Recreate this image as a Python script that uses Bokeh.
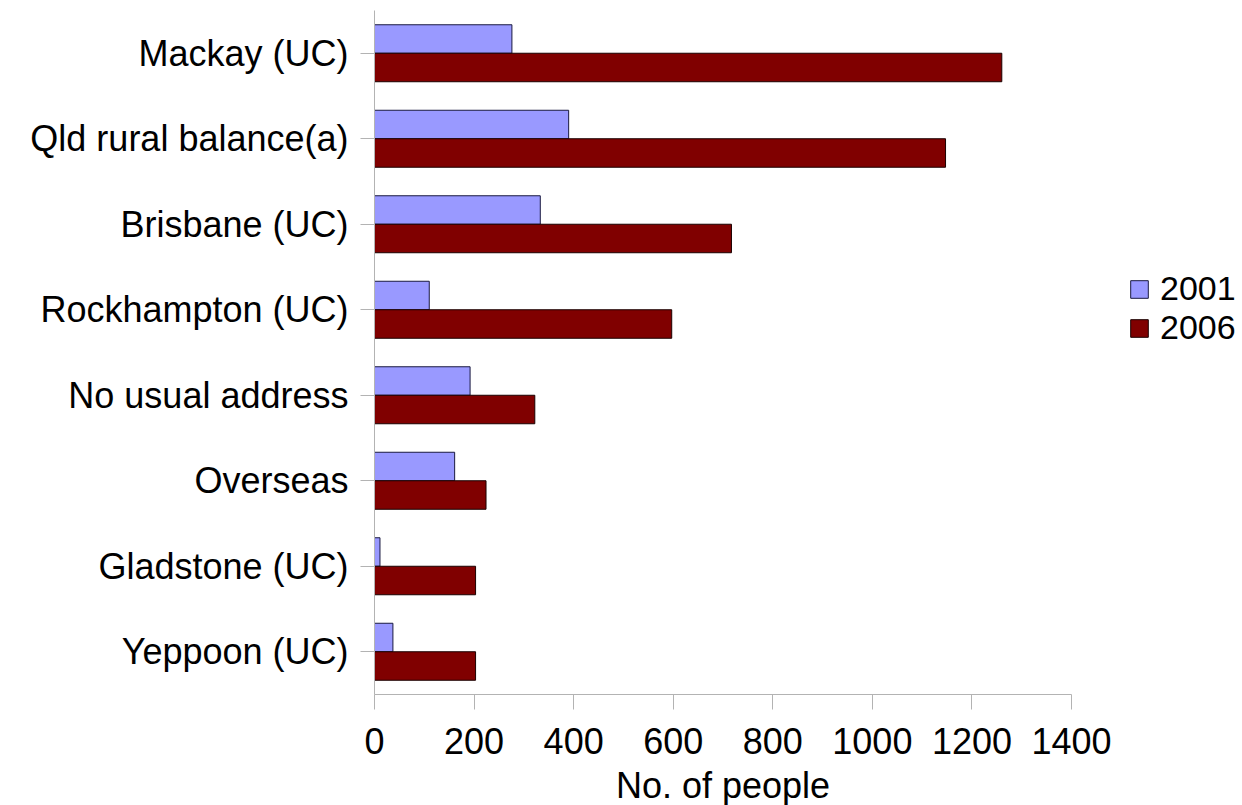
from bokeh.plotting import figure
from bokeh.models import FactorRange, Range1d, Legend, LegendItem, FixedTicker
from bokeh.transform import dodge
from bokeh.embed import file_html
from bokeh.resources import INLINE

categories = ["Mackay (UC)", "Qld rural balance(a)", "Brisbane (UC)", "Rockhampton (UC)",
              "No usual address", "Overseas", "Gladstone (UC)", "Yeppoon (UC)"]
values_2001 = [276, 390, 333, 110, 192, 161, 11, 37]
values_2006 = [1260, 1147, 717, 597, 322, 224, 203, 203]
x_ticks = [0, 200, 400, 600, 800, 1000, 1200, 1400]

FONT = "Liberation Sans"
FS = "36px"
GRAY = "#b3b3b3"

p = figure(y_range=FactorRange(factors=categories[::-1], range_padding=0),
           x_range=Range1d(0, 1400), frame_width=697, frame_height=684,
           output_backend="svg", toolbar_location=None,
           min_border_left=374, min_border_right=0, min_border_top=10, min_border_bottom=109)

src = dict(cat=categories, v1=values_2001, v2=values_2006)
r1 = p.hbar(y=dodge("cat", 1/6, range=p.y_range), right="v1", left=0, height=1/3,
            source=src, fill_color="#9999ff", line_color="#1a1a40", line_width=1)
r2 = p.hbar(y=dodge("cat", -1/6, range=p.y_range), right="v2", left=0, height=1/3,
            source=src, fill_color="#800000", line_color="#1a0000", line_width=1)

p.outline_line_color = None
p.xgrid.grid_line_color = None
p.ygrid.grid_line_color = None

p.xaxis.ticker = FixedTicker(ticks=x_ticks)
p.xaxis.minor_tick_line_color = None
p.xaxis.major_tick_out = 15
p.xaxis.major_tick_in = 0
p.xaxis.axis_line_color = GRAY
p.xaxis.major_tick_line_color = GRAY
p.xaxis.major_label_text_font = FONT
p.xaxis.major_label_text_font_size = FS
p.xaxis.major_label_text_color = "black"
p.xaxis.major_label_standoff = 18
p.xaxis.axis_label = "No. of people"
p.xaxis.axis_label_text_font = FONT
p.xaxis.axis_label_text_font_size = FS
p.xaxis.axis_label_text_font_style = "normal"
p.xaxis.axis_label_text_color = "black"
p.xaxis.axis_label_standoff = 8

p.yaxis.major_tick_out = 14
p.yaxis.major_tick_in = 0
p.yaxis.axis_line_color = GRAY
p.yaxis.major_tick_line_color = GRAY
p.yaxis.major_label_text_font = FONT
p.yaxis.major_label_text_font_size = FS
p.yaxis.major_label_text_color = "black"
p.yaxis.major_label_standoff = 12

legend = Legend(items=[LegendItem(label="2001", renderers=[r1]),
                       LegendItem(label="2006", renderers=[r2])],
                location=(57, 347), orientation="vertical",
                glyph_width=22, glyph_height=22, label_standoff=10, spacing=0,
                padding=0, margin=0, border_line_color=None, background_fill_alpha=0,
                label_text_font=FONT, label_text_font_size="34px", label_text_color="black",
                label_text_line_height=0.85, label_height=22)
p.add_layout(legend, "right")

open("out.html", "w").write(file_html(p, INLINE))
